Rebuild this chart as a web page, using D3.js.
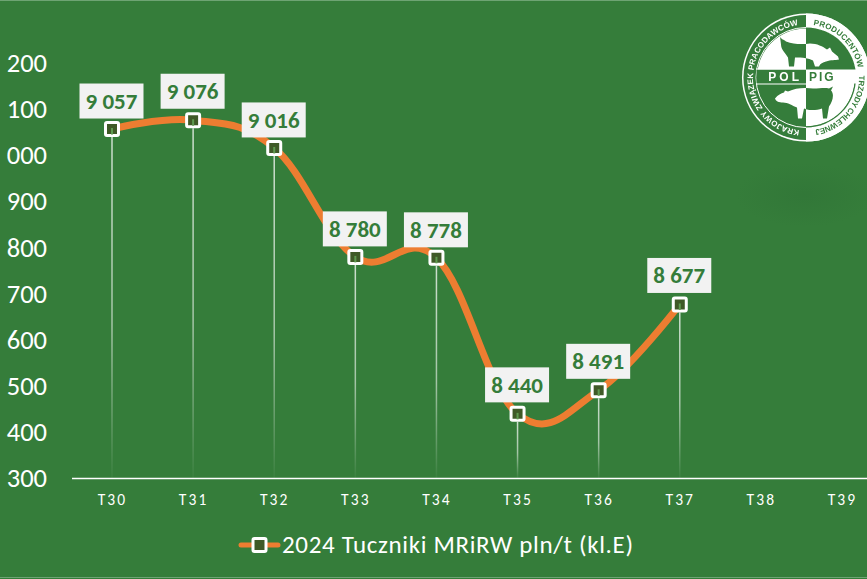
<!DOCTYPE html>
<html><head><meta charset="utf-8">
<script src="https://cdn.jsdelivr.net/npm/d3@7"></script>
<style>html,body{margin:0;padding:0;background:#357d3a}svg{display:block}text{font-family:Carlito,Calibri,Lato,"Open Sans",sans-serif}</style>
</head><body><div id="c"></div>
<script>
const weeks=["T30","T31","T32","T33","T34","T35","T36","T37","T38","T39"];
const values=[9057,9076,9016,8780,8778,8440,8491,8677];
const yTicks=[8300,8400,8500,8600,8700,8800,8900,9000,9100,9200];
const seriesName="2024 Tuczniki MRiRW pln/t (kl.E)";
const W=867,H=579,GREEN="#357d3a",ORANGE="#ed7d31",DARK="#3f5a27";
const svg=d3.select("#c").append("svg").attr("width",W).attr("height",H);
const defs=svg.append("defs");
const grad=defs.append("linearGradient").attr("id","drop").attr("x1",0).attr("x2",0).attr("y1",0).attr("y2",1);
grad.append("stop").attr("offset",0).attr("stop-color","#fff").attr("stop-opacity",.75);
grad.append("stop").attr("offset",.55).attr("stop-color","#fff").attr("stop-opacity",.55);
grad.append("stop").attr("offset",1).attr("stop-color","#fff").attr("stop-opacity",.03);
const sm=defs.append("radialGradient").attr("id","smudge");
sm.append("stop").attr("offset",0).attr("stop-color","#2d6f35").attr("stop-opacity",.4);
sm.append("stop").attr("offset",1).attr("stop-color","#2d6f35").attr("stop-opacity",0);
defs.append("filter").attr("id","soft").append("feGaussianBlur").attr("stdDeviation",.35);
svg.append("rect").attr("width",W).attr("height",H).attr("fill",GREEN);
svg.append("ellipse").attr("cx",805).attr("cy",195).attr("rx",70).attr("ry",32).attr("fill","url(#smudge)");
svg.append("line").attr("x1",0).attr("x2",W).attr("y1",577.5).attr("y2",577.5).attr("stroke","#6ea473").attr("stroke-width",1);
svg.append("line").attr("x1",0).attr("x2",W).attr("y1",.5).attr("y2",.5).attr("stroke","#6ea473").attr("stroke-width",1);
const x=d3.scalePoint().domain(weeks).range([112,842]);
const y=d3.scaleLinear().domain([8300,9200]).range([478.5,63]);
const axisY=svg.append("g").call(d3.axisLeft(y).tickValues(yTicks).tickSize(0).tickFormat(d=>String(d%1000).padStart(3,"0")).tickPadding(0)).attr("transform","translate(47,0)");
axisY.select(".domain").remove();
axisY.selectAll("text").attr("fill","#fff").attr("font-size",26.5).attr("text-anchor","end");
const axisX=svg.append("g").attr("transform","translate(0,478.5)").call(d3.axisBottom(x).tickSize(0).tickPadding(15));
axisX.select(".domain").remove();
axisX.selectAll("text").attr("fill","#fff").attr("font-size",15.5).attr("letter-spacing",2.1);
svg.append("line").attr("x1",72).attr("x2",W).attr("y1",y(8300)).attr("y2",y(8300)).attr("stroke","#fff").attr("stroke-width",1.5);
const pts=values.map((v,i)=>({w:weeks[i],v}));
svg.append("path").attr("d",d3.line().x(d=>x(d.w)).y(d=>y(d.v)).curve(d3.curveCardinal.tension(-0.15))(pts)).attr("fill","none").attr("stroke",ORANGE).attr("stroke-width",7).attr("stroke-linecap","round");
const g=svg.append("g");
g.selectAll("rect.m").data(pts).join("rect").attr("class","m").attr("x",d=>x(d.w)-6.5).attr("y",d=>y(d.v)-6.5).attr("width",13).attr("height",13).attr("rx",1.5).attr("fill",DARK).attr("stroke","#fff").attr("stroke-width",3);
g.selectAll("rect.n").data(pts).join("rect").attr("class","n").attr("x",d=>x(d.w)-1).attr("y",d=>y(d.v)-1).attr("width",2).attr("height",6.5).attr("fill","#5f9a50");
g.selectAll("rect.d").data(pts).join("rect").attr("class","d").attr("x",d=>x(d.w)-.75).attr("y",d=>y(d.v)+8).attr("width",1.5).attr("height",d=>y(8300)-y(d.v)-8).attr("fill","url(#drop)");
const labelOffsets=[-28,-29,-28,-28,-28,-29,-29,-29];
const fmt=v=>{const s=String(v);return s[0]+" "+s.slice(1)};
const lab=svg.append("g").selectAll("g").data(pts).join("g").attr("transform",(d,i)=>`translate(${x(d.w)-.5},${y(d.v)+labelOffsets[i]})`);
lab.append("rect").attr("x",-32).attr("y",-17.5).attr("width",64).attr("height",35).attr("fill","#f2f2f2");
lab.append("text").attr("text-anchor","middle").attr("dy",8).attr("font-size",23).attr("font-weight",700).attr("fill",GREEN).text(d=>fmt(d.v));
/* legend */
const lg=svg.append("g");
lg.append("line").attr("x1",241).attr("x2",278).attr("y1",545).attr("y2",545).attr("stroke",ORANGE).attr("stroke-width",5).attr("stroke-linecap","round");
lg.append("rect").attr("x",253).attr("y",538.5).attr("width",13).attr("height",13).attr("rx",1.5).attr("fill",DARK).attr("stroke","#fff").attr("stroke-width",3);
lg.append("text").attr("x",282).attr("y",553).attr("font-size",25).attr("fill","#fff").attr("letter-spacing",.66).text(seriesName);
/* logo */
const cx=806,cy=77.5,R=64,Ri=50;
const lo=svg.append("g").attr("transform",`translate(${cx},${cy})`).attr("filter","url(#soft)");
const arc=d3.arc();
lo.append("circle").attr("r",R).attr("fill","#fff");
lo.append("circle").attr("r",R-1.5).attr("fill",GREEN);
lo.append("path").attr("d",arc({innerRadius:Ri,outerRadius:R,startAngle:0,endAngle:Math.PI})).attr("fill","#fff");
const Q=Math.PI/2;
[[-Q,"#fff"],[0,GREEN],[Q,"#fff"],[Q*2,GREEN]].forEach(([a,c])=>lo.append("path").attr("d",arc({innerRadius:0,outerRadius:Ri-1,startAngle:a,endAngle:a+Q})).attr("fill",c));
lo.append("circle").attr("r",Ri).attr("fill","none").attr("stroke","#fff").attr("stroke-width",1);
lo.append("path").attr("d",arc({innerRadius:Ri-1.2,outerRadius:Ri,startAngle:0,endAngle:Math.PI})).attr("fill",GREEN);
const pigTop="M-26,-41 C-25,-38 -22,-38 -20,-36 C-12,-33 -4,-33 4,-34 C11,-34 17,-31 21,-28 L24,-30 L26,-26 L32,-21 L33,-18 C29,-17 25,-18 20,-16 C17,-15 14,-14 13,-11 L9,-11 L7,-17 C0,-20 -6,-20 -11,-20 L-12,-11 L-16,-11 L-17,-11 L-18,-20 C-21,-25 -25,-28 -25,-33 Z";
const pigBot="M-31,21 C-28,17 -25,16 -22,15 L-21,13 L-18,14 C-10,10 -1,10 7,11 C14,11 19,10 23,11 L27,9 L25,13 C29,17 26,25 23,29 L21,41 L17,41 L16,31 C10,33 3,33 -2,31 L-4,41 L-8,41 L-9,30 C-14,28 -18,25 -23,25 C-27,25 -30,24 -31,21 Z";
const clips=[["cl",-70,-70,70,70],["cr",0,-70,70,70],["bl",-70,0,70,70],["br",0,0,70,70]];
clips.forEach(([id,a,b,w,h])=>defs.append("clipPath").attr("id",id).append("rect").attr("x",a).attr("y",b).attr("width",w).attr("height",h));
lo.append("path").attr("d",pigTop).attr("fill",GREEN).attr("clip-path","url(#cl)");
lo.append("path").attr("d",pigTop).attr("fill","#fff").attr("clip-path","url(#cr)");
lo.append("path").attr("d",pigBot).attr("fill","#fff").attr("clip-path","url(#bl)");
lo.append("path").attr("d",pigBot).attr("fill",GREEN).attr("clip-path","url(#br)");
lo.append("rect").attr("x",-Ri+.5).attr("y",-8).attr("width",Ri-.5).attr("height",14).attr("fill",GREEN);
lo.append("rect").attr("x",0).attr("y",-8).attr("width",Ri).attr("height",14).attr("fill","#fff");
lo.append("rect").attr("x",-Ri).attr("y",-9).attr("width",Ri).attr("height",1).attr("fill","#fff");
lo.append("rect").attr("x",-Ri).attr("y",6).attr("width",Ri).attr("height",1).attr("fill","#fff");
lo.append("text").attr("x",-4).attr("y",3.5).attr("text-anchor","end").attr("font-size",12).attr("font-weight",700).attr("letter-spacing",3).attr("fill","#fff").style("font-family","Liberation Sans").text("POL");
lo.append("text").attr("x",3).attr("y",3.5).attr("font-size",12).attr("font-weight",700).attr("letter-spacing",2).attr("fill",GREEN).style("font-family","Liberation Sans").text("PIG");
const rr=53;
const pol=a=>[rr*Math.sin(a),-rr*Math.cos(a)];
const arcPath=(a0,a1)=>{const p=pol(a0),q=pol(a1);return `M${p[0]},${p[1]} A${rr},${rr} 0 ${a1-a0>Math.PI?1:0} 1 ${q[0]},${q[1]}`};
const deg=Math.PI/180;
defs.append("path").attr("id","rTop").attr("d",arcPath(8*deg,82*deg));
defs.append("path").attr("id","rBot").attr("d",arcPath(88*deg,172*deg));
defs.append("path").attr("id","lArc").attr("d",arcPath(187*deg,353*deg));
const ringText=(id,txt,fill,len)=>{lo.append("text").attr("font-size",8).attr("font-weight",700).attr("fill",fill).style("font-family","Liberation Sans").append("textPath").attr("href","#"+id).attr("textLength",len).attr("lengthAdjust","spacing").text(txt)};
ringText("rTop","PRODUCENTÓW",GREEN,66);
ringText("rBot","TRZODY CHLEWNEJ",GREEN,76);
ringText("lArc","KRAJOWY ZWIĄZEK PRACODAWCÓW","#fff",152);
</script></body></html>
